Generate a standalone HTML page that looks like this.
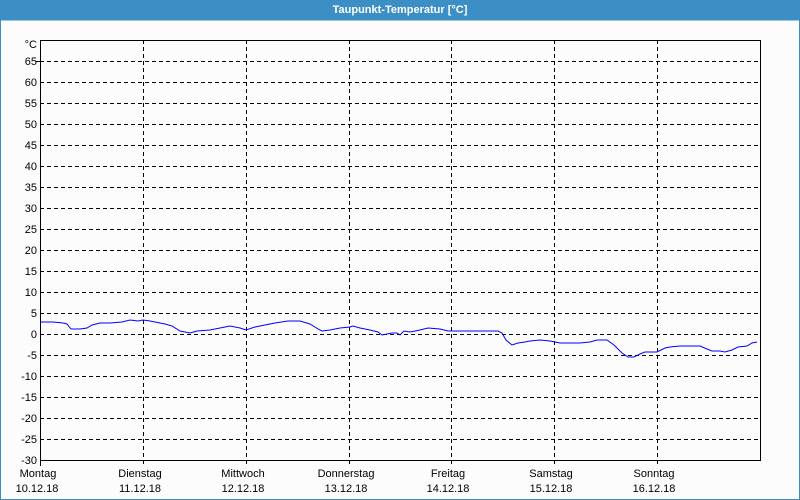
<!DOCTYPE html>
<html><head><style>
body{margin:0;background:#fff;}
#w{position:relative;width:800px;height:500px;overflow:hidden;}
</style></head><body><div id="w">
<svg width="800" height="500" xmlns="http://www.w3.org/2000/svg" font-family="Liberation Sans, DejaVu Sans, sans-serif" font-size="11">
<rect x="0" y="0" width="800" height="500" fill="#fcfcfc"/>
<rect x="0" y="0" width="800" height="20" fill="#3b8fc4"/>
<text x="400" y="13" text-anchor="middle" fill="#fff" font-weight="bold" font-size="11">Taupunkt-Temperatur [°C]</text>
<rect x="0.5" y="20" width="799" height="479.5" fill="none" stroke="#3b8fc4" stroke-width="1"/>
<g stroke="#000" stroke-dasharray="4,3" stroke-width="1">
<line x1="40" x2="761" y1="61.5" y2="61.5"/><line x1="40" x2="761" y1="82.5" y2="82.5"/><line x1="40" x2="761" y1="103.5" y2="103.5"/><line x1="40" x2="761" y1="124.5" y2="124.5"/><line x1="40" x2="761" y1="145.5" y2="145.5"/><line x1="40" x2="761" y1="166.5" y2="166.5"/><line x1="40" x2="761" y1="187.5" y2="187.5"/><line x1="40" x2="761" y1="208.5" y2="208.5"/><line x1="40" x2="761" y1="229.5" y2="229.5"/><line x1="40" x2="761" y1="250.5" y2="250.5"/><line x1="40" x2="761" y1="271.5" y2="271.5"/><line x1="40" x2="761" y1="292.5" y2="292.5"/><line x1="40" x2="761" y1="313.5" y2="313.5"/><line x1="40" x2="761" y1="334.5" y2="334.5"/><line x1="40" x2="761" y1="355.5" y2="355.5"/><line x1="40" x2="761" y1="376.5" y2="376.5"/><line x1="40" x2="761" y1="397.5" y2="397.5"/><line x1="40" x2="761" y1="418.5" y2="418.5"/><line x1="40" x2="761" y1="439.5" y2="439.5"/>
<line x1="143.5" x2="143.5" y1="40" y2="466"/><line x1="246.5" x2="246.5" y1="40" y2="466"/><line x1="349.5" x2="349.5" y1="40" y2="466"/><line x1="451.5" x2="451.5" y1="40" y2="466"/><line x1="554.5" x2="554.5" y1="40" y2="466"/><line x1="657.5" x2="657.5" y1="40" y2="466"/>
</g>
<rect x="40.5" y="40.5" width="720" height="420" fill="none" stroke="#000"/>
<g stroke="#000"><line x1="36" x2="40" y1="61.5" y2="61.5"/><line x1="40.5" x2="40.5" y1="461" y2="466"/></g>
<g text-anchor="end" fill="#000">
<text x="37" y="48">°C</text>
<text x="37" y="65">65</text><text x="37" y="86">60</text><text x="37" y="107">55</text><text x="37" y="128">50</text><text x="37" y="149">45</text><text x="37" y="170">40</text><text x="37" y="191">35</text><text x="37" y="212">30</text><text x="37" y="233">25</text><text x="37" y="254">20</text><text x="37" y="275">15</text><text x="37" y="296">10</text><text x="37" y="317">5</text><text x="37" y="338">0</text><text x="37" y="359">-5</text><text x="37" y="380">-10</text><text x="37" y="401">-15</text><text x="37" y="422">-20</text><text x="37" y="443">-25</text><text x="37" y="464">-30</text>
</g>
<g text-anchor="middle" fill="#000">
<text x="38" y="477">Montag</text><text x="37" y="492">10.12.18</text>
<text x="140" y="477">Dienstag</text><text x="140" y="492">11.12.18</text>
<text x="243" y="477">Mittwoch</text><text x="243" y="492">12.12.18</text>
<text x="346" y="477">Donnerstag</text><text x="346" y="492">13.12.18</text>
<text x="448" y="477">Freitag</text><text x="448" y="492">14.12.18</text>
<text x="551" y="477">Samstag</text><text x="551" y="492">15.12.18</text>
<text x="654" y="477">Sonntag</text><text x="654" y="492">16.12.18</text>
</g>
<polyline fill="none" stroke="#0000ff" stroke-width="1" points="41,322 53,322 63,323 67,324 71,329 80,329 87,328 92,325 100,323 110,323 122,322 130,320 138,321 143,320 150,321 155,322 165,324 172,326 180,331 190,333 197,331 210,330 220,328 230,326 240,328 246,330 255,327 265,325 275,323 288,321 300,321 310,324 318,329 322,331 330,330 340,328 350,327 353,326 360,328 370,330 378,332 382,335 392,333 397,333 400,335 404,331 410,332 420,330 428,328 440,329 448,331 452,331 498,331 502,333 506,340 512,345 518,343 525,342 530,341 540,340 550,341 560,343 580,343 590,342 597,340 607,340 614,345 622,353 628,357 634,357 640,354 645,352 652,352 657,352 665,348 670,347 680,346 700,346 707,349 712,351 720,351 725,352 732,350 738,347 747,346 752,343 757,342"/>
</svg>
</div></body></html>
